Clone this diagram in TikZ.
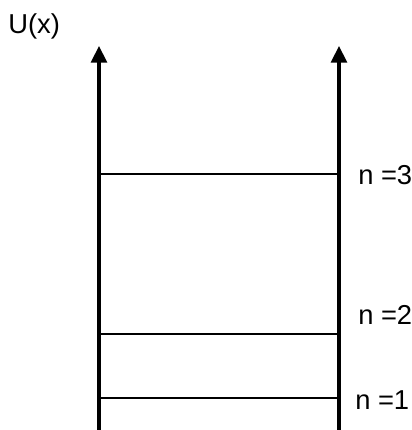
\documentclass[tikz,border=0pt]{standalone}
\usepackage{fontspec}
\setmainfont{Liberation Sans}
\usetikzlibrary{arrows.meta}
\begin{document}
\begin{tikzpicture}[x=0.75pt,y=-0.75pt,
  wall/.style={line width=2.3pt,-{Triangle[length=12.5pt,width=12pt]}},
  level/.style={line width=1.5pt},
  lbl/.style={font=\fontsize{20.5}{24}\selectfont,inner sep=0pt}]
\useasboundingbox (0,0) rectangle (412,430);
\coordinate (lb) at (99,431);
\coordinate (lt) at (99,46);
\coordinate (rb) at (339,431);
\coordinate (rt) at (339,46);
\draw[wall] (lb) -- (lt);
\draw[wall] (rb) -- (rt);
\coordinate (l3) at (99,174);
\coordinate (r3) at (339,174);
\coordinate (l2) at (99,334);
\coordinate (r2) at (341,334);
\coordinate (l1) at (99,398);
\coordinate (r1) at (339,398);
\draw[level] (l3) -- (r3);
\draw[level] (l2) -- (r2);
\draw[level] (l1) -- (r1);
\node[lbl,anchor=west] (u) at (8,26) {U(x)};
\node[lbl,anchor=west] (n3) at (358,175) {n =3};
\node[lbl,anchor=west] (n2) at (358,315) {n =2};
\node[lbl,anchor=west] (n1) at (355,400) {n =1};
\end{tikzpicture}
\end{document}
